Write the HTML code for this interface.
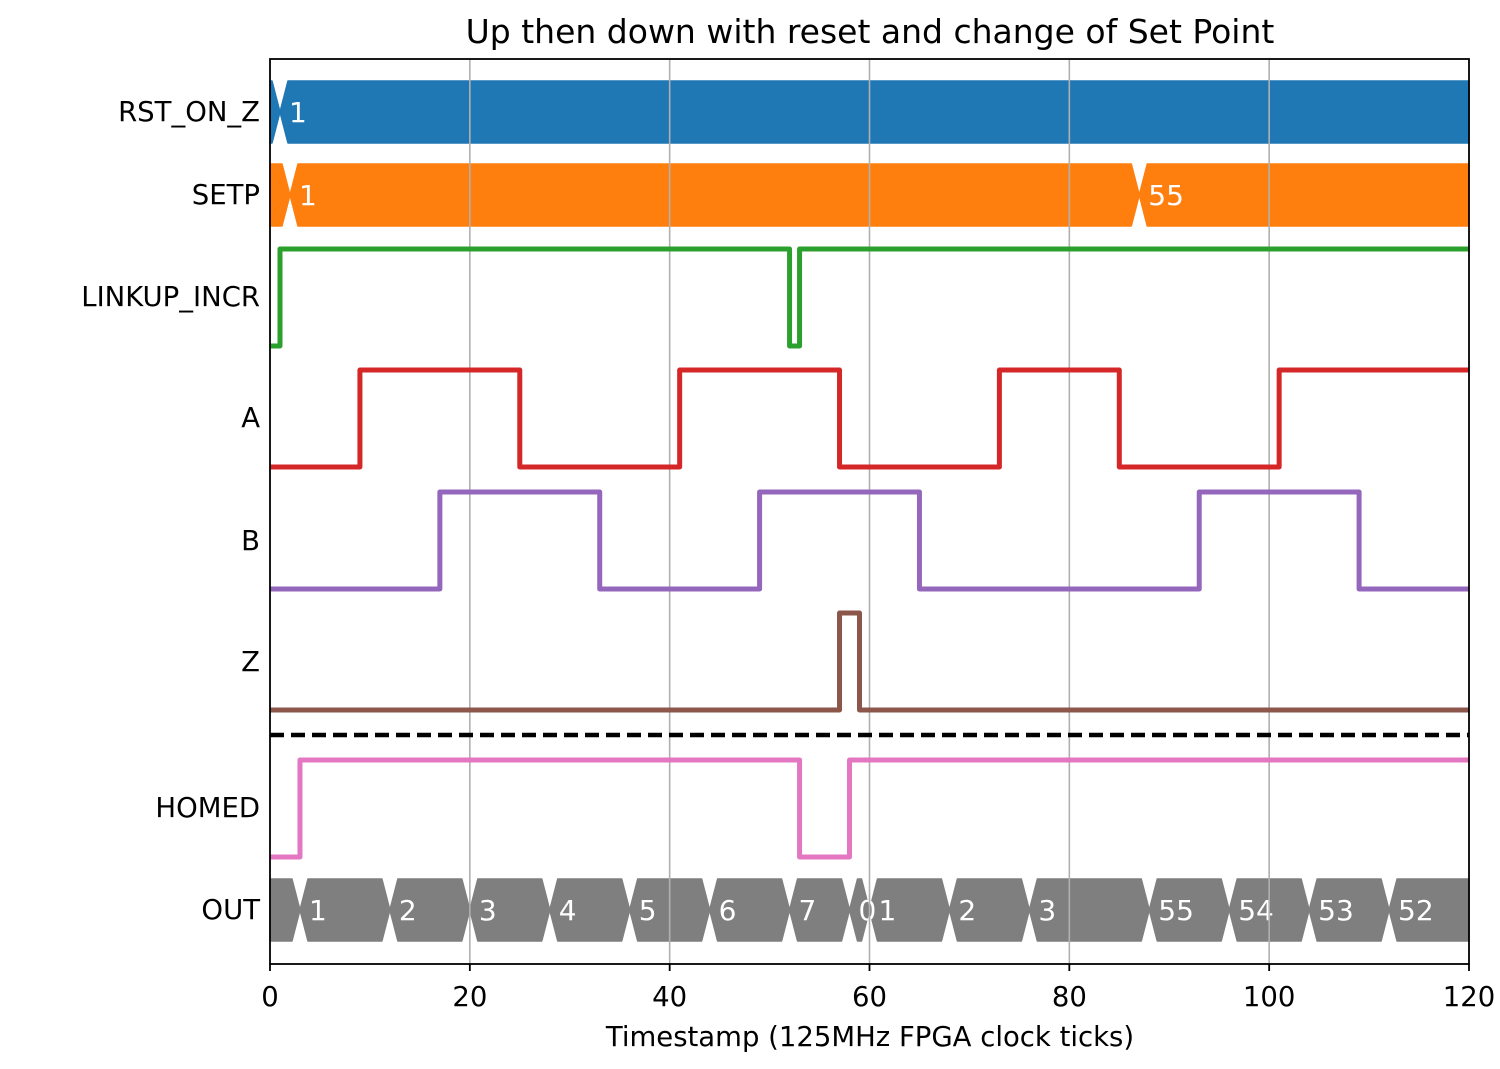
<!DOCTYPE html>
<html><head><meta charset="utf-8"><style>
body{margin:0;background:#fff;}
svg text{font-family:"DejaVu Sans","Liberation Sans",sans-serif;}
</style></head><body>
<svg id="c" width="1500" height="1064" xmlns="http://www.w3.org/2000/svg"></svg>
<script>
const rowNames=["RST_ON_Z","SETP","LINKUP_INCR","A","B","Z","HOMED","OUT"];
const rstTimes=[0,1];const rstVals=["","1"];
const setpTimes=[0,2,87];const setpVals=["","1","55"];
const linkupTimes=[0,1,52,53];const linkupVals=[0,1,0,1];
const aTimes=[0,9,25,41,57,73,85,101];const aVals=[0,1,0,1,0,1,0,1];
const bTimes=[0,17,33,49,65,93,109];const bVals=[0,1,0,1,0,1,0];
const zTimes=[0,57,59];const zVals=[0,1,0];
const homedTimes=[0,3,53,58];const homedVals=[0,1,0,1];
const outTimes=[0,3,12,20,28,36,44,52,58,60,68,76,88,96,104,112];
const outVals=["","1","2","3","4","5","6","7","0","1","2","3","55","54","53","52"];
const xTicks=[0,20,40,60,80,100,120];
const svg=document.getElementById('c');const NS="http://www.w3.org/2000/svg";
const X0=270,X1=1469,Y0=59,Y1=964,TMAX=120;
const xs=t=>X0+(X1-X0)*t/TMAX;
function mk(tag,attrs,parent){const e=document.createElementNS(NS,tag);for(const k in attrs)e.setAttribute(k,attrs[k]);(parent||svg).appendChild(e);return e;}
let t=mk('text',{x:870,y:43,'text-anchor':'middle','font-size':33});t.textContent="Up then down with reset and change of Set Point";


function bus(times,vals,yc,color,name){
  const h=31,d=0.8;
  const g=mk('g',{});
  
  
  const dd=xs(d)-xs(0);
  for(let i=0;i<times.length;i++){
    const a=times[i],b=i+1<times.length?times[i+1]:TMAX;
    const xa=xs(a),xb=xs(b);
    const pts=[];
    if(i===0){pts.push([xa,yc+h],[xa,yc-h]);}else{pts.push([xa,yc],[xa+dd,yc-h]);}
    if(b<TMAX){pts.push([xb-dd,yc-h],[xb,yc],[xb-dd,yc+h]);}else{pts.push([xb,yc-h],[xb,yc+h]);}
    if(i!==0)pts.push([xa+dd,yc+h]);
    const p=mk('polygon',{points:pts.map(q=>q.join(',')).join(' '),fill:color,stroke:color,'stroke-width':1.5,'stroke-linejoin':'round'},g);
    
    
  }
  for(let i=0;i<times.length;i++){
    if(vals[i]==="")continue;
    const tx=mk('text',{x:xs(times[i])+dd+1,y:yc+10,fill:'#fff','font-size':28},g);tx.textContent=vals[i];
    
    
  }
}
bus(rstTimes,rstVals,112,'#1f77b4','rst-on-z-bus');
bus(setpTimes,setpVals,195,'#ff7f0e','setp-bus');
bus(outTimes,outVals,910,'#7f7f7f','out-bus');
for(const v of xTicks.slice(1,-1)){const l=mk('line',{x1:xs(v),x2:xs(v),y1:Y0,y2:Y1,stroke:'#b0b0b0','stroke-width':1.6});
  
  }
function wave(times,vals,yHi,yLo,color,name){
  let d='';
  for(let i=0;i<times.length;i++){const y=vals[i]?yHi:yLo;const xa=xs(times[i]),xb=xs(i+1<times.length?times[i+1]:TMAX);
    d+=(i===0?'M':'L')+xa+','+y+' L'+xb+','+y+' ';}
  const p=mk('path',{d:d,fill:'none',stroke:color,'stroke-width':5,'stroke-linejoin':'round'});
  
  
}
wave(linkupTimes,linkupVals,249,346,'#2ca02c','linkup-incr-line');
wave(aTimes,aVals,370,467,'#d62728','a-line');
wave(bTimes,bVals,492,589,'#9467bd','b-line');
wave(zTimes,zVals,613,710,'#8c564b','z-line');
wave(homedTimes,homedVals,760,857,'#e377c2','homed-line');
let dl=mk('line',{x1:X0,x2:X1,y1:735,y2:735,stroke:'#000','stroke-width':4.5,'stroke-dasharray':'14,7'});


let fr=mk('rect',{x:X0,y:Y0,width:X1-X0,height:Y1-Y0,fill:'none',stroke:'#000','stroke-width':1.8});


const yPos=[112,195,297,418,541,662,808,910];
rowNames.forEach((n,i)=>{const tx=mk('text',{x:260,y:yPos[i]+9,'text-anchor':'end','font-size':27.5});tx.textContent=n;
  
  });
xTicks.forEach(v=>{const l=mk('line',{x1:xs(v),x2:xs(v),y1:Y1,y2:Y1+7,stroke:'#000','stroke-width':1.8});
  
  
  const tx=mk('text',{x:xs(v),y:1006,'text-anchor':'middle','font-size':27.5});tx.textContent=v;
  
  });
let xl=mk('text',{x:870,y:1046,'text-anchor':'middle','font-size':27.5});xl.textContent="Timestamp (125MHz FPGA clock ticks)";


</script>
</body></html>
